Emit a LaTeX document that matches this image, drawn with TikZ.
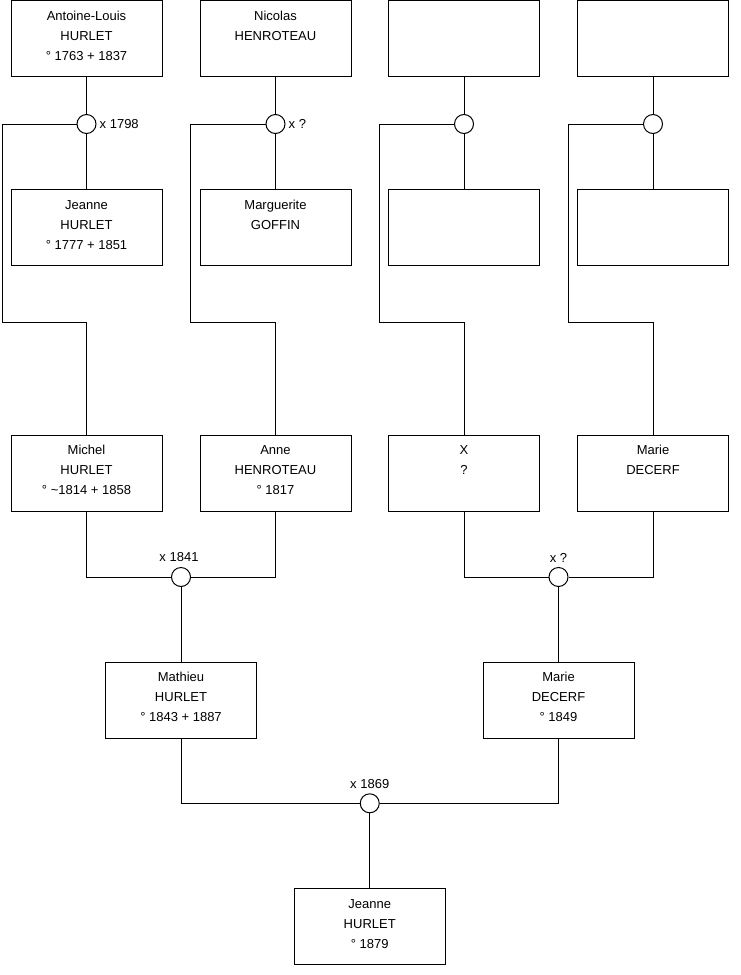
\documentclass[tikz,border=0pt]{standalone}
\usepackage{fontspec}
\setmainfont{Liberation Sans}
\usetikzlibrary{calc}
\newcommand{\ptext}[1]{\parbox[c][76pt][t]{151pt}{\centering\fontsize{13}{20}\selectfont\rule{0pt}{19.7pt}#1}}
\tikzset{
  person/.style={draw=black, line width=1pt, fill=white, inner sep=0pt, minimum width=151pt, minimum height=76pt},
  union/.style={draw=black, line width=1pt, fill=white, circle, inner sep=0pt, minimum size=19pt},
  link/.style={draw=black, line width=1pt},
  lbl/.style={inner sep=0pt, font=\fontsize{13}{15}\selectfont}
}
\begin{document}
\begin{tikzpicture}[x=1pt,y=1pt]
\useasboundingbox (0,0) rectangle (740,-975);
% row 1
\node[person] (a1) at (86.5,-38.5) {\ptext{Antoine-Louis\\HURLET\\° 1763 + 1837}};
\node[person] (a2) at (275.5,-38.5) {\ptext{Nicolas\\HENROTEAU}};
\node[person] (a3) at (464,-38.5) {\ptext{}};
\node[person] (a4) at (653,-38.5) {\ptext{}};
% row 2
\node[person] (b1) at (86.5,-227.5) {\ptext{Jeanne\\HURLET\\° 1777 + 1851}};
\node[person] (b2) at (275.5,-227.5) {\ptext{Marguerite\\GOFFIN}};
\node[person] (b3) at (464,-227.5) {\ptext{}};
\node[person] (b4) at (653,-227.5) {\ptext{}};
% unions row 1
\node[union] (u1) at (86.5,-124) {};
\node[union] (u2) at (275.5,-124) {};
\node[union] (u3) at (464,-124) {};
\node[union] (u4) at (653,-124) {};
\node[lbl, anchor=west] (l1) at ($(u1.east)+(3,0)$) {x 1798};
\node[lbl, anchor=west] (l2) at ($(u2.east)+(3,0)$) {x ?};
% row 3
\node[person] (m1) at (86.5,-473) {\ptext{Michel\\HURLET\\° \textasciitilde1814 + 1858}};
\node[person] (m2) at (275.5,-473) {\ptext{Anne\\HENROTEAU\\° 1817}};
\node[person] (m3) at (464,-473) {\ptext{X\\?}};
\node[person] (m4) at (653,-473) {\ptext{Marie\\DECERF}};
% unions row 3
\node[union] (u5) at (181,-577) {};
\node[union] (u6) at (558.5,-577) {};
\node[lbl, anchor=south] (l5) at ($(u5.north)+(-2,4.8)$) {x 1841};
\node[lbl, anchor=south] (l6) at ($(u6.north)+(0,4.8)$) {x ?};
% row 4
\node[person] (p1) at (181,-700) {\ptext{Mathieu\\HURLET\\° 1843 + 1887}};
\node[person] (p2) at (558.5,-700) {\ptext{Marie\\DECERF\\° 1849}};
\node[union] (u7) at (369.75,-803.3) {};
\node[lbl, anchor=south] (l7) at ($(u7.north)+(0,4.3)$) {x 1869};
% row 5
\node[person] (j) at (369.75,-926.5) {\ptext{Jeanne\\HURLET\\° 1879}};
% connectors
\foreach \i in {1,2,3,4}{
  \draw[link] (a\i.south) -- (u\i.north);
  \draw[link] (u\i.south) -- (b\i.north);
}
\draw[link] (u1.west) -| (2,-322) -| (m1.north);
\draw[link] (u2.west) -| (190,-322) -| (m2.north);
\draw[link] (u3.west) -| (379,-322) -| (m3.north);
\draw[link] (u4.west) -| (568.5,-322) -| (m4.north);
\draw[link] (m1.south) |- (u5.west);
\draw[link] (m2.south) |- (u5.east);
\draw[link] (u5.south) -- (p1.north);
\draw[link] (m3.south) |- (u6.west);
\draw[link] (m4.south) |- (u6.east);
\draw[link] (u6.south) -- (p2.north);
\draw[link] (p1.south) |- (u7.west);
\draw[link] (p2.south) |- (u7.east);
\draw[link] (u7.south) -- (j.north);
\end{tikzpicture}
\end{document}
